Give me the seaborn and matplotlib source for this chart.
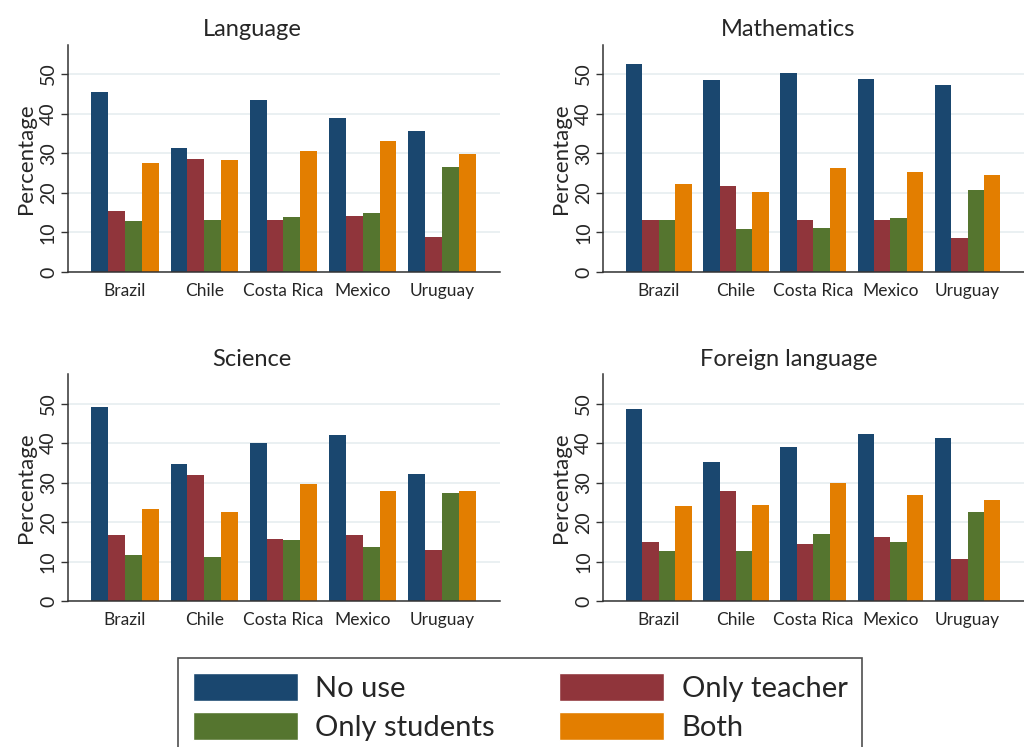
import pandas as pd
import seaborn as sns
import matplotlib.pyplot as plt
from matplotlib.patches import Patch

countries = ['Brazil', 'Chile', 'Costa Rica', 'Mexico', 'Uruguay']
usage = ['No use', 'Only teacher', 'Only students', 'Both']
colors = ['#1a476f', '#90353b', '#55752f', '#e37e00']

language = {
    'No use':        [45.5, 31.2, 43.5, 38.8, 35.5],
    'Only teacher':  [15.5, 28.5, 13.2, 14.2, 8.8],
    'Only students': [12.8, 13.2, 13.8, 14.8, 26.5],
    'Both':          [27.5, 28.2, 30.5, 33.2, 29.8],
}
mathematics = {
    'No use':        [52.5, 48.5, 50.2, 48.8, 47.2],
    'Only teacher':  [13.2, 21.8, 13.2, 13.2, 8.5],
    'Only students': [13.2, 10.8, 11.2, 13.5, 20.8],
    'Both':          [22.2, 20.2, 26.2, 25.2, 24.5],
}
science = {
    'No use':        [49.0, 34.7, 40.0, 42.0, 32.3],
    'Only teacher':  [16.7, 32.0, 15.7, 16.7, 13.0],
    'Only students': [11.7, 11.3, 15.4, 13.7, 27.3],
    'Both':          [23.4, 22.7, 29.7, 28.0, 28.0],
}
foreign = {
    'No use':        [48.7, 35.3, 39.0, 42.3, 41.3],
    'Only teacher':  [15.0, 28.0, 14.6, 16.3, 10.6],
    'Only students': [12.6, 12.6, 17.0, 15.0, 22.7],
    'Both':          [24.0, 24.3, 30.0, 27.0, 25.7],
}
subjects = ['Language', 'Mathematics', 'Science', 'Foreign language']
tables = [language, mathematics, science, foreign]

sns.set_style('white')
plt.rcParams['font.family'] = ['Lato', 'DejaVu Sans']

fig = plt.figure(figsize=(10.24, 7.47), dpi=100)
pos = [
    [0.0664, 0.636, 0.4216, 0.304],
    [0.589, 0.636, 0.411, 0.304],
    [0.0664, 0.195, 0.4216, 0.304],
    [0.589, 0.195, 0.411, 0.304],
]
# title centre, in axes fraction (titles sit over the whole panel, not the axes)
title_x = [0.426, 0.44, 0.426, 0.44]

for p, subj, tab, tx in zip(pos, subjects, tables, title_x):
    ax = fig.add_axes(p)
    rows = []
    for u in usage:
        for c, v in zip(countries, tab[u]):
            rows.append({'country': c, 'usage': u, 'pct': v})
    df = pd.DataFrame(rows)
    sns.barplot(data=df, x='country', y='pct', hue='usage', hue_order=usage,
                order=countries, palette=colors, saturation=1, width=0.85,
                linewidth=0, legend=False, ax=ax, zorder=2)
    ax.set_xlim(-0.72, 4.73)
    ax.set_ylim(0, 57.4)
    ax.set_yticks([0, 10, 20, 30, 40, 50])
    ax.set_yticklabels(['0', '10', '20', '30', '40', '50'], rotation=90, va='center', fontsize=14)
    ax.yaxis.grid(True, color='#e6eef0', linewidth=1.2, zorder=0)
    ax.set_axisbelow(True)
    ax.tick_params(axis='y', length=5, width=1, color='#333333', pad=3, left=True)
    ax.tick_params(axis='x', length=0, pad=8, labelsize=12.5)
    ax.set_xlabel('')
    ax.set_ylabel('Percentage', fontsize=16, labelpad=3)
    ax.set_title(subj, fontsize=17, x=tx, pad=6)
    sns.despine(ax=ax)
    for s in ['left', 'bottom']:
        ax.spines[s].set_color('#333333')
        ax.spines[s].set_linewidth(1.1)

handles = [Patch(facecolor=colors[0], label='No use'),
           Patch(facecolor=colors[2], label='Only students'),
           Patch(facecolor=colors[1], label='Only teacher'),
           Patch(facecolor=colors[3], label='Both')]
leg = fig.legend(handles=handles, ncol=2, loc='upper left',
                 bbox_to_anchor=(0.174, 0.119), borderaxespad=0,
                 fontsize=21, frameon=True,
                 fancybox=False, edgecolor='#222222', handlelength=3.6,
                 handleheight=1.1, columnspacing=2.2, labelspacing=0.36,
                 borderpad=0.5, handletextpad=0.6)
leg.get_frame().set_linewidth(1.2)

fig.savefig('out.png', dpi=100)
